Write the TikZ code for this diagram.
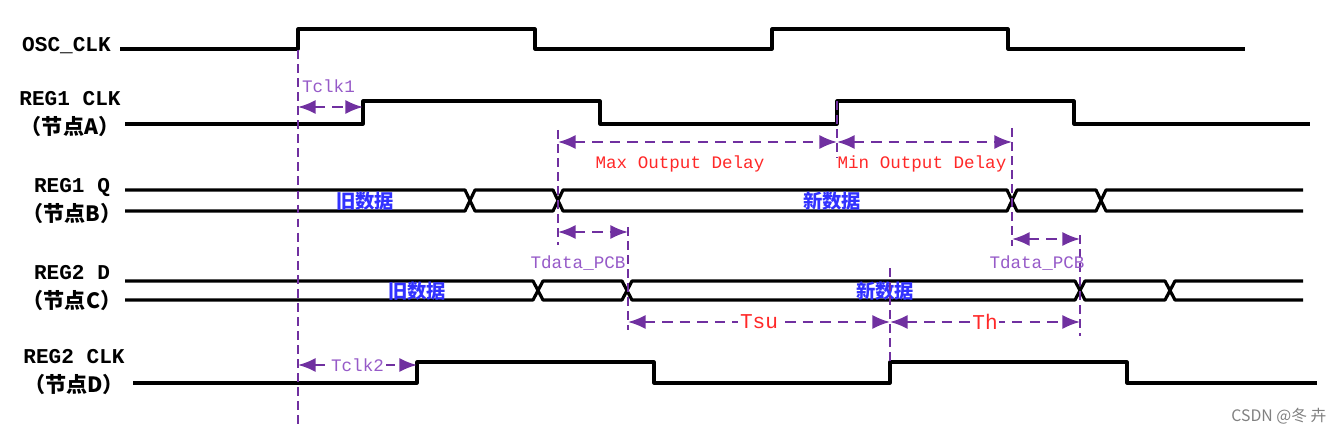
\documentclass[tikz,border=0pt]{standalone}
\usepackage{fontspec}
\setmonofont{Liberation Mono}
\newfontfamily\cjk{Noto Sans CJK SC}
\usepackage{tikz}
\usetikzlibrary{arrows.meta}
\definecolor{vio}{RGB}{112,48,160}
\definecolor{lvio}{RGB}{150,90,200}
\definecolor{dred}{RGB}{255,40,40}
\definecolor{dblue}{RGB}{50,50,255}
\begin{document}
\begin{tikzpicture}[x=0.02cm,y=-0.02cm,
	wave/.style={line width=1.8pt,line join=round},
	guide/.style={vio,line width=0.6pt,dash pattern=on 5pt off 3pt},
	dim/.style={vio,line width=1.2pt,dash pattern=on 6pt off 4pt,
		{Latex[length=10pt,width=8pt]}-{Latex[length=10pt,width=8pt]}},
	sig/.style={font=\ttfamily\bfseries\fontsize{12}{16}\selectfont,align=center},
	data/.style={font=\cjk\bfseries\fontsize{11}{11}\selectfont,text=dblue},
	note/.style={font=\ttfamily\fontsize{10}{10}\selectfont,inner sep=1pt}]
\useasboundingbox (0,0) rectangle (1335,432);

%signal names
\node[sig,anchor=east] (osc) at (117,46) {OSC\_CLK};
\node[sig] (reg1clk) at (70,114) {REG1 CLK\\{\cjk （节点A）}};
\node[sig] (reg1q) at (72,201) {REG1 Q\\{\cjk （节点B）}};
\node[sig] (reg2d) at (72,288) {REG2 D\\{\cjk （节点C）}};
\node[sig] (reg2clk) at (74,372) {REG2 CLK\\{\cjk （节点D）}};

%clocks
\draw[wave] (120,49) -| (298,29) -| (535,49) -| (772,29) -| (1008,49) -- (1245,49);
\draw[wave] (125,124) -| (363,101) -| (600,124) -| (837,101) -| (1074,124) -- (1310,124);
\draw[wave] (133,383) -| (417,362) -| (654,383) -| (890,362) -| (1127,383) -- (1317,383);

%data buses
\draw[wave] (125,190) -- (465,190) -- (475,211) -- (553,211) -- (563,190) -- (1007,190)
	-- (1017,211) -- (1096,211) -- (1106,190) -- (1303,190);
\draw[wave] (125,211) -- (465,211) -- (475,190) -- (553,190) -- (563,211) -- (1007,211)
	-- (1017,190) -- (1096,190) -- (1106,211) -- (1303,211);
\draw[wave] (125,281) -- (533,281) -- (543,300) -- (622,300) -- (632,281) -- (1075,281)
	-- (1085,300) -- (1165,300) -- (1175,281) -- (1303,281);
\draw[wave] (125,300) -- (533,300) -- (543,281) -- (622,281) -- (632,300) -- (1075,300)
	-- (1085,281) -- (1165,281) -- (1175,300) -- (1303,300);

\node[data] (old1) at (365,201) {旧数据};
\node[data] (new1) at (832,201) {新数据};
\node[data] (old2) at (417,291) {旧数据};
\node[data] (new2) at (885,291) {新数据};

%guide lines
\foreach \n/\x/\ya/\yb in {g1/298/50/425, g2/558/130/245, g3/837/101/158,
	g4/1012/128/246, g5/628/227/330, g6/1080/235/336, g7/890/268/362}
	{\coordinate (\n a) at (\x,\ya);
	\coordinate (\n b) at (\x,\yb);
	\draw[guide] (\n a) -- (\n b);}

%timing arrows
\foreach \n/\xa/\xb/\y in {tclka/298/363/107, max/558/837/142, min/837/1012/142,
	pcba/558/628/232, pcbb/1012/1080/239, tsu/628/890/322, th/890/1080/322,
	tclkb/298/417/365}
	{\coordinate (\n a) at (\xa,\y);
	\coordinate (\n b) at (\xb,\y);}
\draw[dim] (tclkaa) -- (tclkab);
\draw[dim] (maxa) -- (maxb);
\draw[dim] (mina) -- (minb);
\draw[dim] (pcbaa) -- (pcbab);
\draw[dim] (pcbba) -- (pcbbb);
\draw[dim] (tsua) -- node[note,fill=white,text=dred,font=\ttfamily\fontsize{12}{12}\selectfont] (tsutext) {Tsu} (tsub);
\draw[dim] (tha) -- node[note,fill=white,text=dred,font=\ttfamily\fontsize{12}{12}\selectfont] (thtext) {Th} (thb);
\draw[dim] (tclkba) -- node[note,fill=white,text=lvio] (tclkbtext) {Tclk2} (tclkbb);

%labels
\node[note,text=lvio,anchor=west] (tclkatext) at (300,86) {Tclk1};
\node[note,text=dred] (maxtext) at (680,164) {Max Output Delay};
\node[note,text=dred] (mintext) at (922,164) {Min Output Delay};
\node[note,text=lvio] (pcbatext) at (578,263) {Tdata\_PCB};
\node[note,text=lvio] (pcbbtext) at (1037,263) {Tdata\_PCB};
\node[font=\cjk\fontsize{9}{9}\selectfont,text=gray] (mark) at (1279,416) {CSDN @冬 卉};
\end{tikzpicture}
\end{document}
